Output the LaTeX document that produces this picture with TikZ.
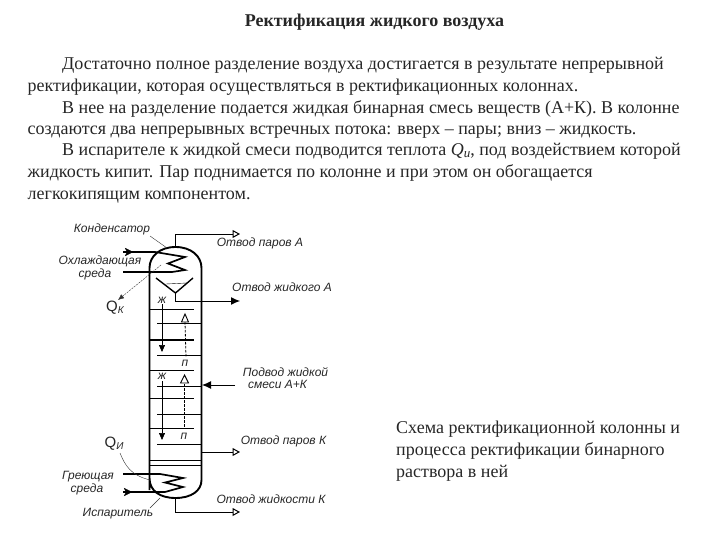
\documentclass[tikz,border=0pt]{standalone}
\usepackage{fontspec}
\setmainfont{Liberation Serif}
\newfontfamily\lblfont{Liberation Sans}
\usetikzlibrary{arrows.meta}
\tikzset{
 body/.style={anchor=base west,inner sep=0pt,font=\fontsize{18}{20}\selectfont,text=black!85},
 lbl/.style={inner sep=0pt,font=\lblfont\itshape\fontsize{12}{13}\selectfont,text=black!85},
 qlbl/.style={inner sep=0pt,font=\lblfont\fontsize{15}{16}\selectfont,text=black!85},
 wall/.style={line width=1.9pt,black},
 tray/.style={line width=0.9pt,black},
 pipe/.style={line width=1pt,black},
 coil/.style={line width=1.7pt,black},
 thin leader/.style={line width=0.4pt,black!80},
 hollow/.style={-{Triangle[open,length=7.5pt,width=8pt,line width=1pt]}},
 solid tip/.style={-{Latex[length=9pt,width=8pt]}},
 vapor/.style={line width=0.8pt,dash pattern=on 2.5pt off 1.5pt,black},
 liquid/.style={line width=0.7pt,black}
}
\begin{document}
\begin{tikzpicture}[x=1pt,y=-1pt]
\useasboundingbox (0,0) rectangle (720,540);
% texts
\node[inner sep=0pt,font=\bfseries\fontsize{18}{20}\selectfont,text=black!85] (title) at (374.5,22) {Ректификация жидкого воздуха};
\node[body] (l1) at (62,70) {Достаточно полное разделение воздуха достигается в результате непрерывной};
\node[body] (l2) at (27.5,92) {ректификации, которая осуществляться в ректификационных колоннах.};
\node[body] (l3) at (62,113.5) {В нее на разделение подается жидкая бинарная смесь веществ (А+К). В колонне};
\node[body] (l4) at (27.5,135) {создаются два непрерывных встречных потока: вверх – пары; вниз – жидкость.};
\node[body] (l5) at (62,156) {В испарителе к жидкой смеси подводится теплота \textit{Q}\raisebox{-2pt}{\fontsize{13}{14}\selectfont\itshape и}, под воздействием которой};
\node[body] (l6) at (27.5,178) {жидкость кипит. Пар поднимается по колонне и при этом он обогащается};
\node[body] (l7) at (27.5,200) {легкокипящим компонентом.};
\node[body] (c1) at (396,433) {Схема ректификационной колонны и};
\node[body] (c2) at (396,455) {процесса ректификации бинарного};
\node[body] (c3) at (396,477) {раствора в ней};
% column
\draw[wall] (149.5,490) -- (149.5,268) .. controls (149.5,256) and (160,247) .. (175.5,247) .. controls (191,247) and (201.5,256) .. (201.5,268) -- (201.5,480)
 .. controls (201.5,491) and (191,498) .. (175.5,498) .. controls (160,498) and (149.5,491) .. (149.5,478);
% trays
\foreach \y in {309,370,398,428} \draw[tray] (150,\y) -- (194,\y);
\draw[line width=1.7pt] (150,340) -- (194,340);
\foreach \y in {323.5,355,386,414,444} \draw[tray] (157,\y) -- (201,\y);
\draw[tray] (150,460.5) -- (201,460.5);
\draw[line width=0.6pt] (150,465) -- (201,465);
% funnel
\coordinate (ft) at (175.5,293);
\draw[line width=1.4pt] (156,278) -- (ft) -- (193,278);
\draw[line width=0.4pt] (166,284) -- (187,283);
% liquid and vapour flows
\coordinate (lq1) at (162,304); \coordinate (lq1e) at (162,352);
\coordinate (lq2) at (162,381); \coordinate (lq2e) at (162,440);
\draw[liquid,-{Triangle[length=7pt,width=6pt]}] (lq1) -- (lq1e);
\draw[liquid,-{Triangle[length=7pt,width=6pt]}] (lq2) -- (lq2e);
\coordinate (t1) at (185,322); \coordinate (t1e) at (186,357);
\coordinate (t2) at (184.5,384); \coordinate (t2e) at (184.5,428);
\draw[vapor] (t1) -- (t1e);
\draw[vapor] (t2) -- (t2e);
\draw[line width=0.9pt,fill=white] (181.5,322) -- (185,314) -- (188.5,322) -- cycle;
\draw[line width=0.9pt,fill=white] (180.5,383) -- (184.5,375) -- (188.5,383) -- cycle;
\node[lbl,fill=white,inner sep=0.5pt] (zh1) at (162,300) {ж};
\node[lbl,fill=white,inner sep=0.5pt] (zh2) at (162,376) {ж};
\node[lbl] (p1) at (185,363) {п};
\node[lbl] (p2) at (184,436) {п};
% condenser coil
\draw[coil] (123,252) -- (155,252) -- (185,257) -- (168,263.5) -- (185,270) -- (172,272) -- (123,272);
\draw[line width=0.1pt,fill=black] (125,248) -- (133,252) -- (125,256) -- (127,252) -- cycle;
% evaporator coil
\draw[coil] (123,474) -- (160,474) -- (183,478) -- (165,482.5) -- (183,487) -- (165,492) -- (123,492);
\draw[line width=0.1pt,fill=black] (124,488) -- (132,492) -- (124,496) -- (126,492) -- cycle;
% outlets
\coordinate (topo) at (175.5,247); \coordinate (topc) at (175.5,234); \coordinate (vaporA) at (240,234);
\draw[pipe,hollow] (topo) -- (topc) -- (vaporA);
\coordinate (liqAc) at (175.5,301); \coordinate (liqA) at (240,301);
\draw[pipe,solid tip] (ft) -- (liqAc) -- (liqA);
\coordinate (feed) at (235,385); \coordinate (feedin) at (202,385);
\draw[pipe,solid tip] (feed) -- (feedin);
\coordinate (vk0) at (201.5,452); \coordinate (vk) at (240,452);
\draw[pipe,hollow] (vk0) -- (vk);
\coordinate (lk0) at (175.5,498); \coordinate (lkc) at (175.5,512); \coordinate (lk) at (240,512);
\draw[pipe,hollow] (lk0) -- (lkc) -- (lk);
% labels
\node[lbl] (cond) at (112,229) {Конденсатор};
\node[lbl] (cool1) at (100,261.5) {Охлаждающая};
\node[lbl] (cool2) at (95,274) {среда};
\node[qlbl] (qk) at (115,308) {Q\raisebox{-2pt}{\fontsize{10}{11}\selectfont\itshape К}};
\node[qlbl] (qu) at (114,444) {Q\raisebox{-2pt}{\fontsize{10}{11}\selectfont\itshape И}};
\node[lbl] (heat1) at (88,477) {Греющая};
\node[lbl] (heat2) at (87,489.5) {среда};
\node[lbl] (evap) at (118,513.5) {Испаритель};
\node[lbl] (va) at (260,243.5) {Отвод паров А};
\node[lbl] (la) at (282,287) {Отвод жидкого А};
\node[lbl] (f1) at (285.5,372.5) {Подвод жидкой};
\node[lbl] (f2) at (277.5,384.5) {смеси А+К};
\node[lbl] (vkl) at (283.5,441) {Отвод паров К};
\node[lbl] (lkl) at (271,499.5) {Отвод жидкости К};
% leaders
\coordinate (condp) at (167,248); \coordinate (evapp) at (160,498); \coordinate (qkp) at (161,265); \coordinate (qup) at (150,480);
\coordinate (condf) at (150,236); \coordinate (evapf) at (150,508); \coordinate (quf) at (120,453); \coordinate (qke) at (118,300);
\draw[thin leader] (condf) -- (condp);
\draw[thin leader] (evapf) -- (evapp);
\draw[thin leader,dash pattern=on 2pt off 1pt,-{Latex[length=6pt,width=5pt]}] (qkp) -- (qke);
\draw[thin leader] (quf) .. controls (125,465) and (130,475) .. (qup);
\end{tikzpicture}
\end{document}
